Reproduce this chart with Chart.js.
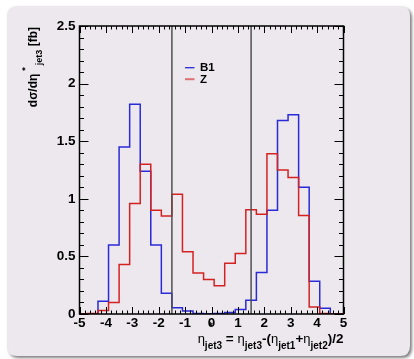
<!DOCTYPE html>
<html><head><meta charset="utf-8">
<script src="https://cdn.jsdelivr.net/npm/chart.js@4.4.1/dist/chart.umd.min.js"></script>
<style>html,body{margin:0;padding:0;background:#fff;}#wrap{width:414px;height:359px;position:relative;}</style>
</head><body><div id="wrap"><canvas id="c" width="414" height="359"></canvas></div>
<script>
// ---- data ----
const binLowEdges = [-5.1, -4.7, -4.3, -3.9, -3.5, -3.1, -2.7, -2.3, -1.9, -1.5, -1.1, -0.7, -0.3, 0.1, 0.5, 0.9, 1.3, 1.7, 2.1, 2.5, 2.9, 3.3, 3.7, 4.1, 4.5, 4.9];
const binWidth = 0.4;
const seriesB1 = [0, 0, 0.11, 0.60, 1.45, 1.82, 1.24, 0.60, 0.18, 0.055, 0.025, 0.005, 0.003, 0.005, 0.012, 0.04, 0.12, 0.36, 0.90, 1.68, 1.73, 1.10, 0.285, 0.05, 0.003, 0];
const seriesZ  = [0, 0.005, 0.03, 0.10, 0.43, 0.96, 1.30, 0.90, 0.85, 1.04, 0.54, 0.355, 0.30, 0.245, 0.44, 0.525, 0.905, 0.865, 1.39, 1.25, 1.185, 0.855, 0.06, 0.005, 0, 0];
const seriesNames = ['B1', 'Z'];
const cutPositions = [-1.5, 1.5];
const xTickValues = [-5, -4, -3, -2, -1, 0, 1, 2, 3, 4, 5];
const yTickValues = [0, 0.5, 1, 1.5, 2, 2.5];
const xRange = [-5, 5];
const yRange = [0, 2.5];

// ---- build ----
function histPoints(vals) {
  const pts = vals.map((v, i) => ({x: binLowEdges[i], y: v}));
  pts.push({x: binLowEdges[binLowEdges.length - 1] + binWidth, y: 0});
  return pts;
}
const colB1 = '#2a2ad8';
const colZ = '#d42222';
const FONT = '"Liberation Sans", Arial, sans-serif';

const datasets = [
  ...cutPositions.map(c => ({label: '', data: [{x: c, y: yRange[0]}, {x: c, y: yRange[1]}], borderColor: '#505050', borderWidth: 1.5, pointRadius: 0, order: 0})),
  {label: seriesNames[1], data: histPoints(seriesZ), borderColor: colZ, borderWidth: 1.5, stepped: true, pointRadius: 0, order: 1},
  {label: seriesNames[0], data: histPoints(seriesB1), borderColor: colB1, borderWidth: 1.5, stepped: true, pointRadius: 0, order: 2}
];

function roundRect(ctx, x, y, w, h, r) {
  ctx.beginPath();
  ctx.moveTo(x + r, y);
  ctx.lineTo(x + w - r, y); ctx.quadraticCurveTo(x + w, y, x + w, y + r);
  ctx.lineTo(x + w, y + h - r); ctx.quadraticCurveTo(x + w, y + h, x + w - r, y + h);
  ctx.lineTo(x + r, y + h); ctx.quadraticCurveTo(x, y + h, x, y + h - r);
  ctx.lineTo(x, y + r); ctx.quadraticCurveTo(x, y, x + r, y);
  ctx.closePath();
}

const panelPlugin = {
  id: 'panel',
  beforeDraw(chart) {
    const ctx = chart.ctx;
    ctx.save();
    ctx.fillStyle = '#ffffff';
    ctx.fillRect(0, 0, chart.width, chart.height);
    ctx.shadowColor = 'rgba(0,0,0,0.5)';
    ctx.shadowBlur = 3;
    ctx.shadowOffsetX = 2;
    ctx.shadowOffsetY = 2;
    roundRect(ctx, 7, 6, 403, 350, 10);
    ctx.fillStyle = '#ece8ee';
    ctx.fill();
    ctx.restore();
  }
};

const fonts = {
  main: 'bold 13.5px ' + FONT,
  greek: '13px ' + FONT,
  sub: 'bold 10px ' + FONT,
  sup: 'bold 10px ' + FONT
};
function drawRich(ctx, parts, fnts, subDy, supDy) {
  let x = 0;
  for (const p of parts) {
    ctx.font = fnts[p.f];
    let dy = 0;
    if (p.f === 'sub') dy = subDy;
    if (p.f === 'sup') dy = supDy;
    const w = ctx.measureText(p.t).width;
    ctx.fillText(p.t, x + (p.dx || 0), dy);
    if (!p.stack) x += w + (p.dx || 0);
  }
  return x;
}
function measureRich(ctx, parts, fnts) {
  let x = 0;
  for (const p of parts) {
    if (p.stack) continue;
    ctx.font = fnts[p.f];
    x += ctx.measureText(p.t).width + (p.dx || 0);
  }
  return x;
}

const decorPlugin = {
  id: 'decor',
  afterDraw(chart) {
    const ctx = chart.ctx;
    const a = chart.chartArea;
    const xs = chart.scales.x, ys = chart.scales.y;
    ctx.save();
    // frame
    ctx.strokeStyle = '#000';
    ctx.lineWidth = 1.5;
    ctx.strokeRect(a.left, a.top, a.right - a.left, a.bottom - a.top);
    // ticks
    ctx.lineWidth = 1;
    ctx.beginPath();
    for (let i = 0; i <= 50; i++) {
      const v = xRange[0] + i * 0.2;
      const px = Math.round(xs.getPixelForValue(v)) + 0.5;
      const L = (i % 5 === 0) ? 7 : 3.5;
      ctx.moveTo(px, a.bottom); ctx.lineTo(px, a.bottom - L);
      ctx.moveTo(px, a.top); ctx.lineTo(px, a.top + L);
    }
    for (let i = 0; i <= 25; i++) {
      const v = yRange[0] + i * 0.1;
      const py = Math.round(ys.getPixelForValue(v)) + 0.5;
      const L = (i % 5 === 0) ? 9 : 4.5;
      ctx.moveTo(a.left, py); ctx.lineTo(a.left + L, py);
      ctx.moveTo(a.right, py); ctx.lineTo(a.right - L, py);
    }
    ctx.stroke();

    // legend
    const shown = chart.data.datasets.filter(d => seriesNames.includes(d.label));
    shown.sort((p, q) => seriesNames.indexOf(p.label) - seriesNames.indexOf(q.label));
    ctx.font = 'bold 11.5px ' + FONT;
    ctx.textBaseline = 'middle';
    ctx.textAlign = 'left';
    shown.forEach((d, i) => {
      const y = 67.7 + i * 11.5;
      ctx.strokeStyle = d.borderColor;
      ctx.lineWidth = i === 0 ? 1.3 : 2;
      ctx.globalAlpha = i === 0 ? 1 : 0.6;
      ctx.beginPath(); ctx.moveTo(185, y); ctx.lineTo(194.5, y); ctx.stroke();
      ctx.globalAlpha = 1;
      ctx.fillStyle = '#000';
      ctx.fillText(d.label, 200, y + 0.5);
    });

    // x title
    ctx.textBaseline = 'alphabetic';
    ctx.fillStyle = '#000';
    const xParts = [
      {t: 'η', f: 'greek'}, {t: '*', f: 'sup', stack: true, dx: 4},
      {t: 'jet3', f: 'sub'}, {t: ' = ', f: 'main'},
      {t: 'η', f: 'greek'}, {t: 'jet3', f: 'sub'}, {t: '-(', f: 'main'},
      {t: 'η', f: 'greek'}, {t: 'jet1', f: 'sub'}, {t: '+', f: 'main'},
      {t: 'η', f: 'greek'}, {t: 'jet2', f: 'sub'}, {t: ')/2', f: 'main'}
    ];
    const wX = measureRich(ctx, xParts, fonts);
    ctx.save();
    ctx.translate(a.right - wX, 343);
    drawRich(ctx, xParts, fonts, 6, -13);
    ctx.restore();

    // y title
    const yFonts = {main: 'bold 12px ' + FONT, greek: 'bold 12px ' + FONT, sub: 'bold 9px ' + FONT, sup: 'bold 9px ' + FONT};
    const yParts = [
      {t: 'dσ/dη', f: 'main'}, {t: '*', f: 'sup', dx: 3},
      {t: 'jet3', f: 'sub', dx: 2}, {t: ' [fb]', f: 'main'}
    ];
    const wY = measureRich(ctx, yParts, yFonts);
    ctx.save();
    ctx.translate(36.5, a.top + 1 + wY);
    ctx.rotate(-Math.PI / 2);
    drawRich(ctx, yParts, yFonts, 5, -9);
    ctx.restore();
    ctx.restore();
  }
};

new Chart(document.getElementById('c'), {
  type: 'line',
  data: {datasets},
  options: {
    responsive: false,
    animation: false,
    devicePixelRatio: 1,
    layout: {padding: {left: 0, right: 70.5, top: 26, bottom: 0}},
    plugins: {legend: {display: false}, tooltip: {enabled: false}},
    scales: {
      x: {
        type: 'linear', min: xRange[0], max: xRange[1],
        afterBuildTicks: s => { s.ticks = xTickValues.map(v => ({value: v})); },
        afterFit: s => { s.height = 45; },
        grid: {display: false, drawTicks: false},
        border: {display: false},
        ticks: {color: '#000', font: {family: FONT, size: 13.5, weight: 'bold'}, padding: 1, maxRotation: 0, autoSkip: false,
          callback: v => String(v)}
      },
      y: {
        type: 'linear', min: yRange[0], max: yRange[1],
        afterBuildTicks: s => { s.ticks = yTickValues.map(v => ({value: v})); },
        afterFit: s => { s.width = 79.5; },
        grid: {display: false, drawTicks: false},
        border: {display: false},
        ticks: {color: '#000', font: {family: FONT, size: 13.5, weight: 'bold'}, padding: 4, autoSkip: false,
          callback: v => String(v)}
      }
    }
  },
  plugins: [panelPlugin, decorPlugin]
});
</script></body></html>
